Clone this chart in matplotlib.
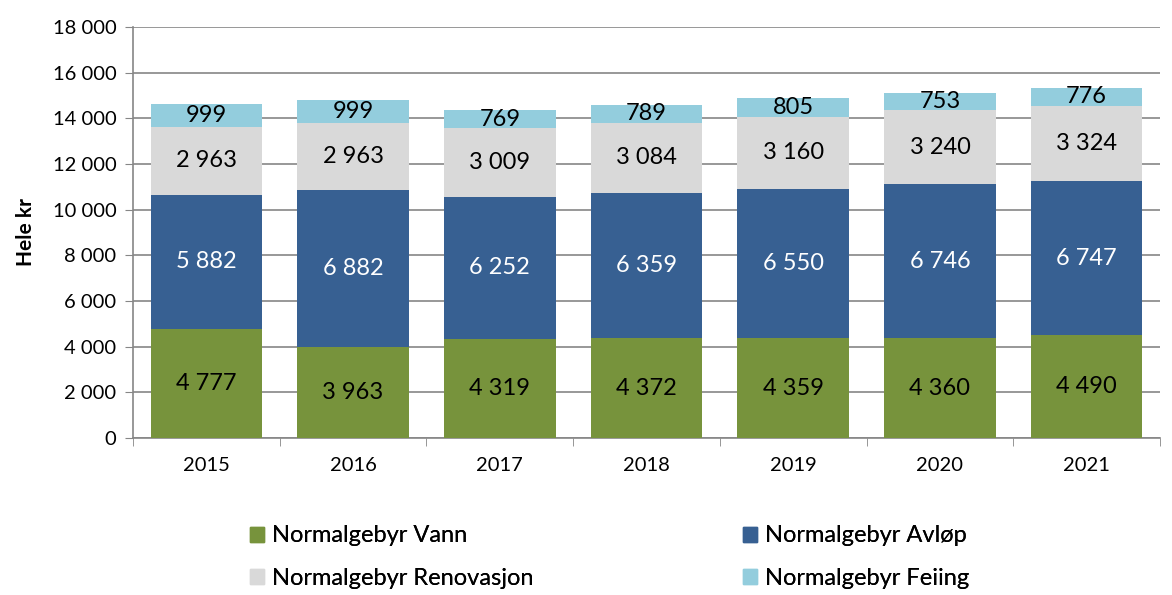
import matplotlib
matplotlib.use("Agg")
import matplotlib.pyplot as plt
import numpy as np
from matplotlib.patches import Patch

plt.rcParams['font.family'] = ['Lato', 'DejaVu Sans']

years = ['2015', '2016', '2017', '2018', '2019', '2020', '2021']
vann = [4777, 3963, 4319, 4372, 4359, 4360, 4490]
avlop = [5882, 6882, 6252, 6359, 6550, 6746, 6747]
renovasjon = [2963, 2963, 3009, 3084, 3160, 3240, 3324]
feiing = [999, 999, 769, 789, 805, 753, 776]

series = [
    ('Normalgebyr Vann', vann, '#77933C', 'black'),
    ('Normalgebyr Avløp', avlop, '#376092', 'white'),
    ('Normalgebyr Renovasjon', renovasjon, '#D9D9D9', 'black'),
    ('Normalgebyr Feiing', feiing, '#93CDDD', 'black'),
]

def fmt(v):
    return f"{v:,}".replace(",", " ")

fig = plt.figure(figsize=(11.72, 5.95), dpi=100)
ax = fig.add_axes([0.1135, 0.2639, 0.8763, 0.6907])

x = np.arange(len(years))
bottom = np.zeros(len(years))
for name, vals, color, tcolor in series:
    vals = np.array(vals, dtype=float)
    ax.bar(x, vals, width=0.76, bottom=bottom, color=color, zorder=3, label=name)
    for xi, b, v in zip(x, bottom, vals):
        ax.text(xi, b + v / 2, fmt(int(v)), ha='center', va='center',
                color=tcolor, fontsize=17, zorder=4)
    bottom += vals

ax.set_xlim(-0.5, len(years) - 0.5)
ax.set_ylim(0, 18000)
ax.set_yticks(np.arange(0, 18001, 2000))
ax.set_yticklabels([fmt(v) for v in range(0, 18001, 2000)], fontsize=14.5)
ax.set_xticks(x)
ax.set_xticklabels(years, fontsize=14.5)
ax.set_xticks(np.arange(-0.5, len(years), 1), minor=True)
ax.tick_params(axis='x', which='major', length=0, pad=14)
ax.tick_params(axis='x', which='minor', length=6, color='#868686', direction='out')
ax.tick_params(axis='y', length=6, color='#868686', direction='out', pad=6)
ax.yaxis.grid(True, color='#868686', linewidth=1.2, zorder=0)
ax.set_axisbelow(True)
for s in ['top', 'right']:
    ax.spines[s].set_visible(False)
for s in ['left', 'bottom']:
    ax.spines[s].set_color('#868686')
    ax.spines[s].set_linewidth(1.2)
ax.set_ylabel('Hele kr', fontsize=15, fontweight='bold', labelpad=12)

handles = [Patch(color=c, label=n) for n, _, c, _ in series]
left_col = [handles[0], handles[2]]
right_col = [handles[1], handles[3]]
for hs, xpos in [(left_col, 250 / 1172), (right_col, 743 / 1172)]:
    leg = fig.legend(handles=hs, loc='center left', bbox_to_anchor=(xpos, 1 - 557 / 595),
                     frameon=False, fontsize=17, handlelength=0.6, handleheight=0.6,
                     handletextpad=0.35, labelspacing=0.9, borderpad=0,
                     borderaxespad=0)
    fig.add_artist(leg)

fig.savefig('out.png', dpi=100)
